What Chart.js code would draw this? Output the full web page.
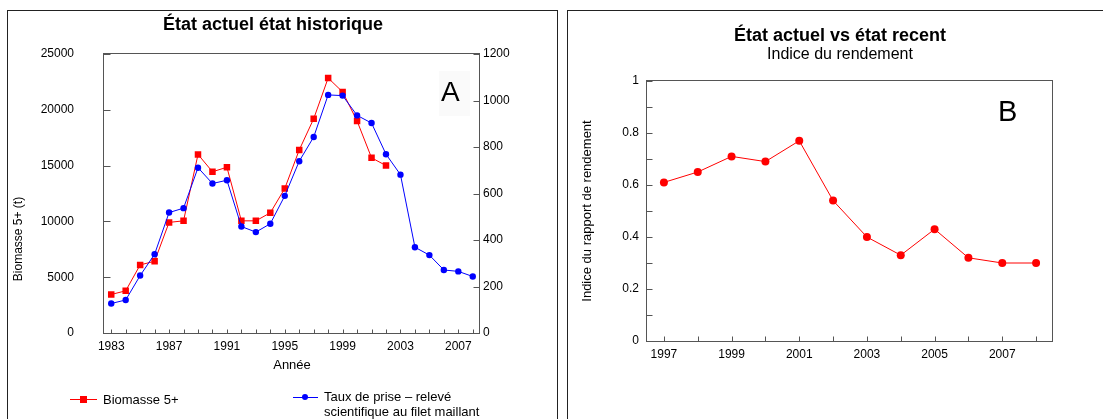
<!DOCTYPE html>
<html lang="fr">
<head>
<meta charset="utf-8">
<title>État actuel</title>
<script src="https://cdn.jsdelivr.net/npm/chart.js@4.4.0/dist/chart.umd.min.js"></script>
<style>
  html, body { margin: 0; padding: 0; background: #fff; }
  body { width: 1103px; height: 419px; overflow: hidden; position: relative;
         font-family: Arial, "Liberation Sans", sans-serif; color: #000; }
  canvas { position: absolute; top: 0; }
  .panel { position: absolute; top: 10px; height: 440px; border: 1px solid #222; box-sizing: border-box; pointer-events: none; }
  .txt { position: absolute; white-space: nowrap; }
  .title { font-weight: bold; font-size: 18px; line-height: 20px; text-align: center; width: 400px; }
  .leg { font-size: 13px; line-height: 15px; }
</style>
</head>
<body>
<canvas id="chartA" width="557" height="419" style="left:0"></canvas>
<canvas id="chartB" width="536" height="419" style="left:567px"></canvas>

<div class="panel" style="left:7px; width:551px"></div>
<div class="panel" style="left:567px; width:545px"></div>

<!-- panel A texts -->
<div class="txt title" style="left:73px; top:14px">État actuel état historique</div>
<div class="txt" style="left:18px; top:239px; font-size:12px; transform:translate(-50%,-50%) rotate(-90deg)">Biomasse 5+ (t)</div>
<div class="txt" style="left:439px; top:71px; width:31px; height:45px; background:#fafafa"></div>
<div class="txt" style="left:441px; top:77px; font-size:28px; line-height:30px">A</div>

<!-- legend A -->
<div class="txt" style="left:70px; top:399px; width:27px; height:1px; background:#ff0000"></div>
<div class="txt" style="left:80px; top:396px; width:7px; height:7px; background:#ff0000"></div>
<div class="txt leg" style="left:103px; top:392px">Biomasse 5+</div>
<div class="txt" style="left:293px; top:397px; width:25px; height:1px; background:#0000ff"></div>
<div class="txt" style="left:302px; top:394px; width:6px; height:6px; border-radius:50%; background:#0000ff"></div>
<div class="txt leg" style="left:324px; top:389px">Taux de prise – relevé<br>scientifique au filet maillant</div>

<!-- panel B texts -->
<div class="txt title" style="left:640px; top:25px">État actuel vs état recent</div>
<div class="txt" style="left:640px; top:45px; width:400px; text-align:center; font-size:16px; line-height:18px">Indice du rendement</div>
<div class="txt" style="left:998px; top:96px; font-size:29px; line-height:30px">B</div>

<script>
// Panel A : série historique
const anneesA = ['1983', '1984', '1985', '1986', '1987', '1988', '1989', '1990', '1991', '1992', '1993', '1994', '1995',
                 '1996', '1997', '1998', '1999', '2000', '2001', '2002', '2003', '2004', '2005', '2006', '2007', '2008'];
const biomasse = [3450, 3780, 6100, 6430, 9910, 10050, 16000, 14450, 14850, 10050, 10050, 10770, 12950,
                  16400, 19200, 22850, 21600, 19000, 15700, 15000, null, null, null, null, null, null];
const tauxPrise = [127, 142, 247, 339, 518, 537, 711, 643, 657, 458, 434, 470, 590,
                   739, 843, 1024, 1021, 936, 903, 769, 681, 369, 335, 271, 265, 243];
const labelsA = ['1983', '1987', '1991', '1995', '1999', '2003', '2007'];

// Panel B : indice du rendement
const anneesB = ['1997', '1998', '1999', '2000', '2001', '2002', '2003', '2004', '2005', '2006', '2007', '2008'];
const indice = [0.61, 0.65, 0.71, 0.69, 0.77, 0.54, 0.40, 0.33, 0.43, 0.32, 0.30, 0.30];
const labelsB = ['1997', '1999', '2001', '2003', '2005', '2007'];

Chart.defaults.font.family = 'Arial, "Liberation Sans", sans-serif';
Chart.defaults.color = '#000';

// cadre du graphique + graduations vers l'intérieur (style Excel)
const innerTicks = {
    id: 'innerTicks',
    afterDraw(chart, args, opts) {
        const { ctx, chartArea: a } = chart;
        const L = Math.round(a.left) - 0.5, R = Math.round(a.right) - 0.5;
        const T = Math.round(a.top) - 0.5, B = Math.round(a.bottom) + 0.5;
        ctx.save();
        ctx.strokeStyle = '#555';
        ctx.lineWidth = 1;
        ctx.strokeRect(L, T, R - L, B - T);
        ctx.beginPath();
        Object.keys(opts.len || {}).forEach(id => {
            const scale = chart.scales[id];
            const len = opts.len[id];
            scale.ticks.forEach((t, i) => {
                if (scale.isHorizontal()) {
                    const x = Math.round(scale.getPixelForTick(i)) + 0.5;
                    ctx.moveTo(x, B); ctx.lineTo(x, B - len);
                } else {
                    const y = Math.round(scale.getPixelForValue(t.value)) + 0.5;
                    if (scale.position === 'right') { ctx.moveTo(R, y); ctx.lineTo(R - len, y); }
                    else { ctx.moveTo(L, y); ctx.lineTo(L + len, y); }
                }
            });
        });
        ctx.stroke();
        ctx.restore();
    }
};

const tickFont = { size: 12 };
const noGrid = { display: false, drawTicks: false };

new Chart(document.getElementById('chartA'), {
    type: 'line',
    data: {
        labels: anneesA,
        datasets: [
            { label: 'Biomasse 5+', data: biomasse, yAxisID: 'y', order: 1,
              borderColor: '#ff0000', backgroundColor: '#ff0000', borderWidth: 1, tension: 0,
              pointStyle: 'rect', pointRadius: 4.6, pointBorderWidth: 0 },
            { label: 'Taux de prise – relevé scientifique au filet maillant', data: tauxPrise, yAxisID: 'y1', order: 0,
              borderColor: '#0000ff', backgroundColor: '#0000ff', borderWidth: 1, tension: 0,
              pointStyle: 'circle', pointRadius: 3.2, pointBorderWidth: 0 }
        ]
    },
    options: {
        responsive: false,
        animation: false,
        devicePixelRatio: 1,
        layout: { padding: { left: 4, right: 17, top: 54, bottom: 46 } },
        plugins: {
            legend: { display: false },
            tooltip: { enabled: false },
            innerTicks: { len: { x: 4, y: 7, y1: 6 } }
        },
        scales: {
            x: {
                offset: true,
                grid: noGrid, border: { display: false },
                ticks: { font: tickFont, padding: 6, autoSkip: false, maxRotation: 0,
                         callback: (v, i) => labelsA.includes(anneesA[i]) ? anneesA[i] : '' },
                title: { display: true, text: 'Année', font: { size: 13 }, padding: { top: 0, bottom: 0 } },
                afterFit: s => { s.height = 40; }
            },
            y: {
                position: 'left', min: 0, max: 25000,
                grid: noGrid, border: { display: false },
                ticks: { font: tickFont, padding: 30, stepSize: 5000, callback: v => String(v) },
                afterFit: s => { s.width = 100; }
            },
            y1: {
                position: 'right', min: 0, max: 1200,
                grid: noGrid, border: { display: false },
                ticks: { font: tickFont, padding: 3, stepSize: 200, callback: v => String(v) },
                afterFit: s => { s.width = 60; }
            }
        }
    },
    plugins: [innerTicks]
});

new Chart(document.getElementById('chartB'), {
    type: 'line',
    data: {
        labels: anneesB,
        datasets: [
            { label: 'Indice du rendement', data: indice,
              borderColor: '#ff0000', backgroundColor: '#ff0000', borderWidth: 1, tension: 0,
              pointStyle: 'circle', pointRadius: 4, pointBorderWidth: 0 }
        ]
    },
    options: {
        responsive: false,
        animation: false,
        devicePixelRatio: 1,
        layout: { padding: { left: 5, right: 50, top: 81, bottom: 48 } },
        plugins: {
            legend: { display: false },
            tooltip: { enabled: false },
            innerTicks: { len: { x: 5, y: 6 } }
        },
        scales: {
            x: {
                offset: true,
                grid: noGrid, border: { display: false },
                ticks: { font: tickFont, padding: 6, autoSkip: false, maxRotation: 0,
                         callback: (v, i) => labelsB.includes(anneesB[i]) ? anneesB[i] : '' },
                afterFit: s => { s.height = 30; }
            },
            y: {
                min: 0, max: 1,
                grid: noGrid, border: { display: false },
                ticks: { font: tickFont, padding: 8, stepSize: 0.1,
                         callback: v => Math.round(v * 10) % 2 === 0 ? String(Math.round(v * 10) / 10) : '' },
                title: { display: true, text: 'Indice du rapport de rendement', font: { size: 13 }, padding: { top: 8, bottom: 0 } },
                afterFit: s => { s.width = 75; }
            }
        }
    },
    plugins: [innerTicks]
});
</script>
</body>
</html>
